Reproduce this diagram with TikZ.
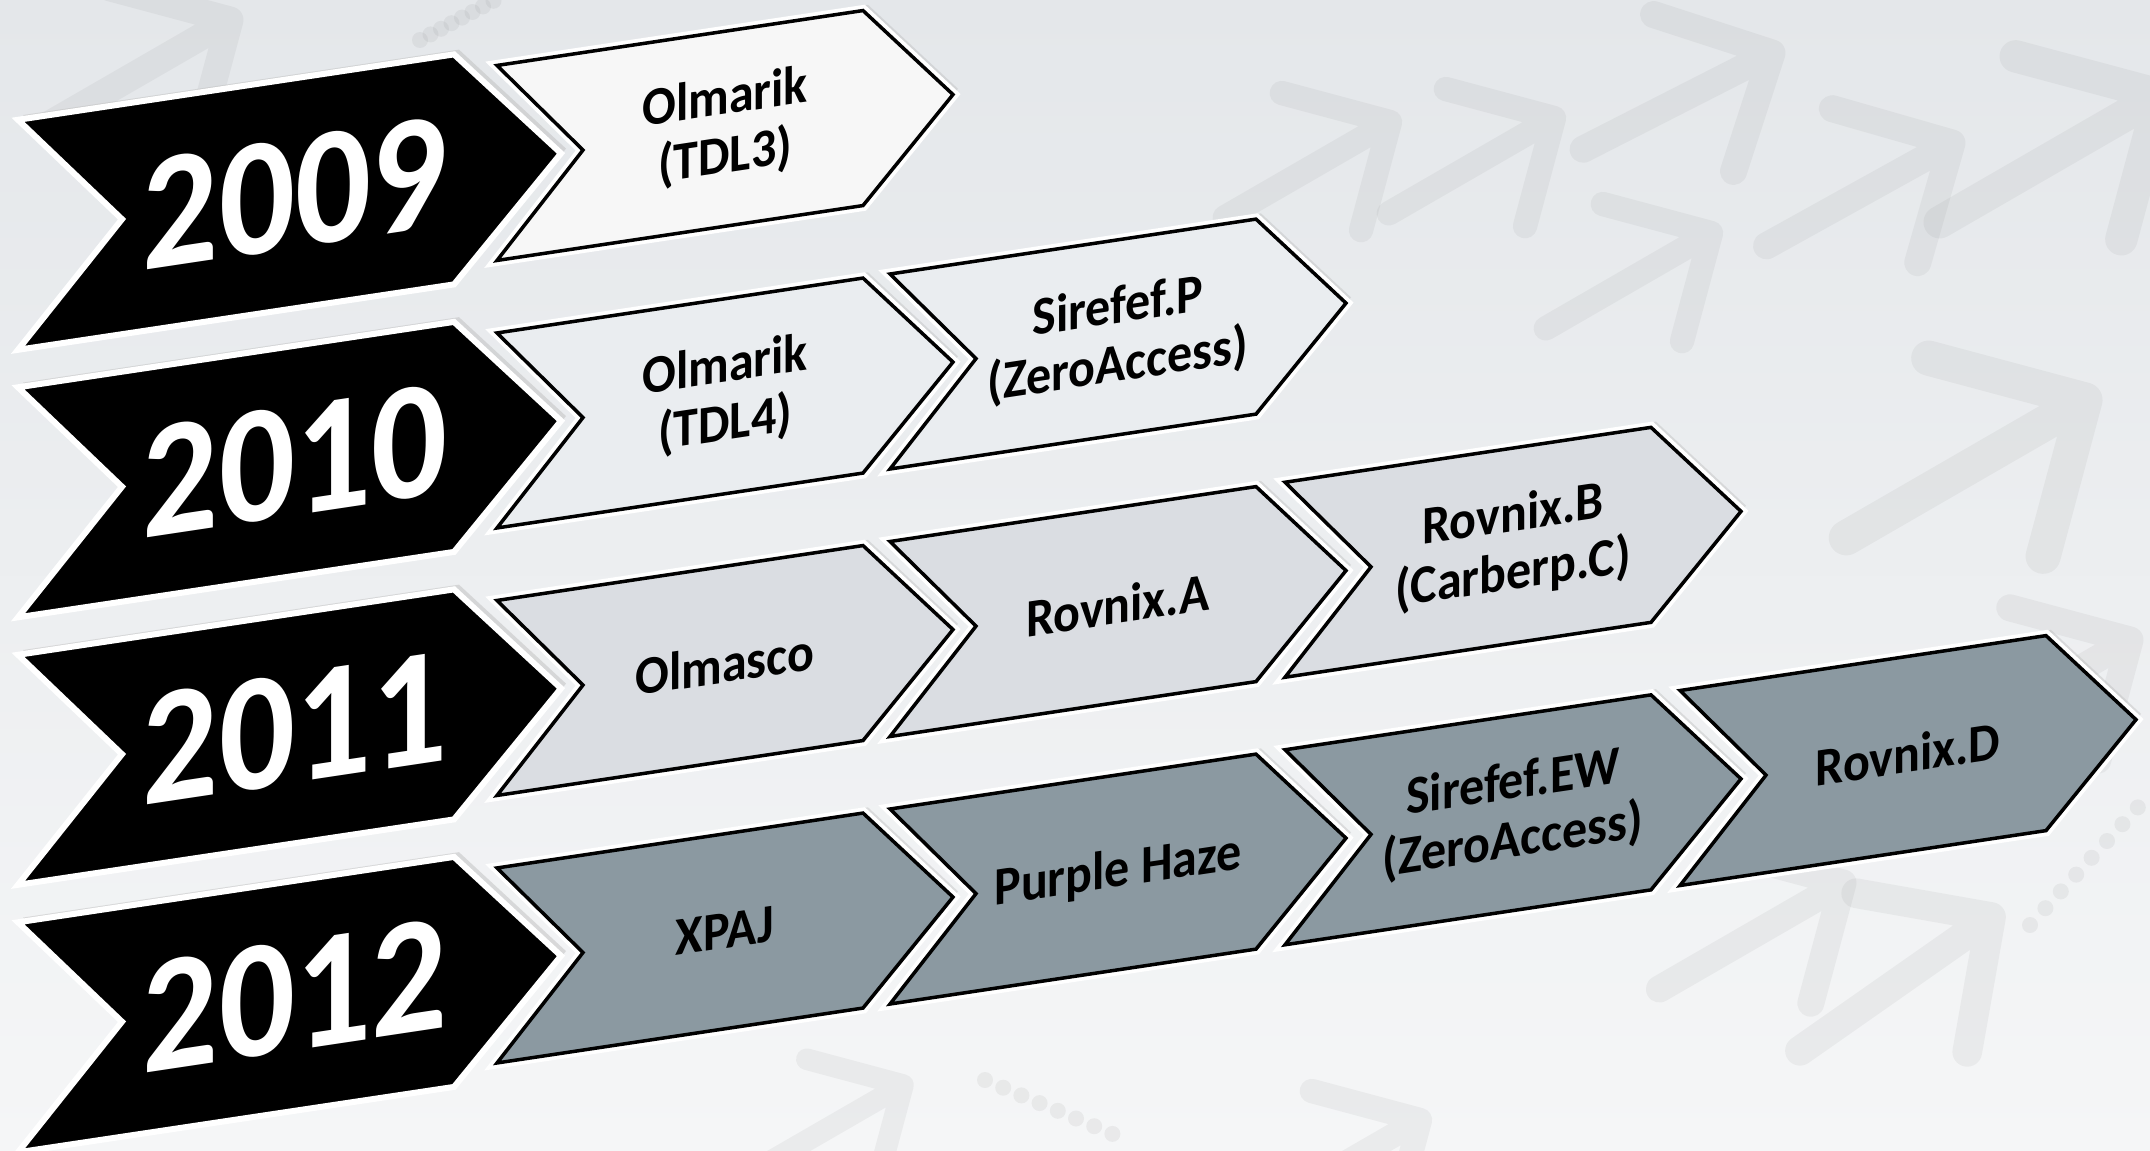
\documentclass[tikz,border=0pt]{standalone}
\usepackage{fontspec}
\setmainfont{Carlito}
\definecolor{bgtop}{HTML}{E4E7EA}
\definecolor{bgbot}{HTML}{F5F6F7}
\definecolor{cA}{HTML}{F7F7F7}
\definecolor{cB}{HTML}{EAEDF0}
\definecolor{cC}{HTML}{DADDE2}
\definecolor{cD}{HTML}{8B99A1}
% chevron path: x, v(center, downwards), body width, height, tip depth, notch depth, style
\newcommand\mychev[7]{%
  \path[#7] (#1,{-#2+#4/2}) -- ({#1+#3},{-#2+#4/2}) -- ({#1+#3+#5},{-#2})
    -- ({#1+#3},{-#2-#4/2}) -- (#1,{-#2-#4/2}) -- ({#1+#6},{-#2}) -- cycle;}
\newcommand\myyear[1]{% v
  \mychev{23}{#1+4}{436}{230}{107}{104}{fill=black!25, opacity=0.5}
  \mychev{18}{#1}{436}{230}{107}{104}{yearbox}}
\newcommand\myitem[3]{% x, v, colour
  \mychev{#1+5}{#2+5}{366}{195}{90}{86}{fill=black!30, opacity=0.35}
  \mychev{#1}{#2}{366}{195}{90}{86}{draw=white, line width=11}
  \mychev{#1}{#2}{366}{195}{90}{86}{itembox, fill=#3}}
% faint background arrow: corner x, corner y (downwards), direction, scale
\newcommand\bgarr[4]{%
  \begin{scope}[shift={(#1,-#2)}, rotate=#3, scale=#4]
    \draw[bgline, line width=#4*27] (-88,88) -- (0,0) -- (-88,-88) (0,0) -- (-212,0);
  \end{scope}}
\newcommand\bgdots[4]{% from x,y to x,y (downwards)
  \foreach \t in {0,0.14,...,1.01}{\fill[bgdot] ({#1+\t*(#3-#1)},{-(#2+\t*(#4-#2))}) circle (8);}}
\tikzset{
  bgline/.style={draw=gray, draw opacity=0.09, line cap=round, line join=round},
  bgdot/.style={fill=gray, fill opacity=0.1},
  yearbox/.style={fill=black, draw=white, line width=6},
  itembox/.style={draw=black, line width=3.5, line join=miter},
  yeartext/.style={text=white, font=\bfseries\fontsize{150}{150}\selectfont, yscale=1.12, transform shape, inner sep=0},
  itemtext/.style={text=black, font=\bfseries\fontsize{50}{54}\selectfont, yscale=1.08, align=center, transform shape, inner sep=0}
}
\begin{document}
\begin{tikzpicture}[x=1pt,y=1pt]
\clip (0,0) rectangle (2150,-1151);
\shade[top color=bgtop, bottom color=bgbot] (0,0) rectangle (2150,-1151);
% background decoration
\bgarr{1952}{143}{29}{1}
\bgarr{1772}{53}{27}{1}
\bgarr{1554}{118}{30}{0.9}
\bgarr{1390}{122}{30}{0.9}
\bgarr{1711}{233}{30}{0.9}
\bgarr{2160}{95}{30}{1.2}
\bgarr{2085}{400}{30}{1.3}
\bgarr{1991}{917}{35}{1.1}
\bgarr{1843}{883}{30}{1}
\bgarr{903}{1085}{30}{0.8}
\bgarr{230}{20}{30}{1}
\bgarr{2130}{640}{30}{1}
\bgarr{1420}{1120}{30}{0.9}
\draw[bgline, line width=24] (1398,452) circle (80);
\bgdots{2030}{925}{2140}{805}
\bgdots{420}{40}{495}{0}
\bgdots{985}{1080}{1115}{1135}
\begin{scope}[yslant=0.15]
  % row 2009
  \myyear{237.5}
  \myitem{497}{237.5}{cA}
  \node[yeartext] (y2009) at (295,-237.5) {2009};
  \node[itemtext] (olm3) at (725,-237.5) {Olmarik\\(TDL3)};
  % row 2010
  \myyear{505}
  \myitem{890}{505}{cB}
  \myitem{497}{505}{cB}
  \node[yeartext] (y2010) at (295,-505) {2010};
  \node[itemtext] (olm4) at (725,-505) {Olmarik\\(TDL4)};
  \node[itemtext] (sirp) at (1118,-505) {Sirefef.P\\(ZeroAccess)};
  % row 2011
  \myyear{772.5}
  \myitem{1285}{772.5}{cC}
  \myitem{890}{772.5}{cC}
  \myitem{497}{772.5}{cC}
  \node[yeartext] (y2011) at (295,-772.5) {2011};
  \node[itemtext] (olmasco) at (725,-772.5) {Olmasco};
  \node[itemtext] (rova) at (1118,-772.5) {Rovnix.A};
  \node[itemtext] (rovb) at (1513,-772.5) {Rovnix.B\\(Carberp.C)};
  % row 2012
  \myyear{1040}
  \myitem{1680}{1040}{cD}
  \myitem{1285}{1040}{cD}
  \myitem{890}{1040}{cD}
  \myitem{497}{1040}{cD}
  \node[yeartext] (y2012) at (295,-1040) {2012};
  \node[itemtext] (xpaj) at (725,-1040) {XPAJ};
  \node[itemtext] (purple) at (1118,-1040) {Purple Haze};
  \node[itemtext] (sirew) at (1513,-1040) {Sirefef.EW\\(ZeroAccess)};
  \node[itemtext] (rovd) at (1908,-1040) {Rovnix.D};
\end{scope}
\end{tikzpicture}
\end{document}
